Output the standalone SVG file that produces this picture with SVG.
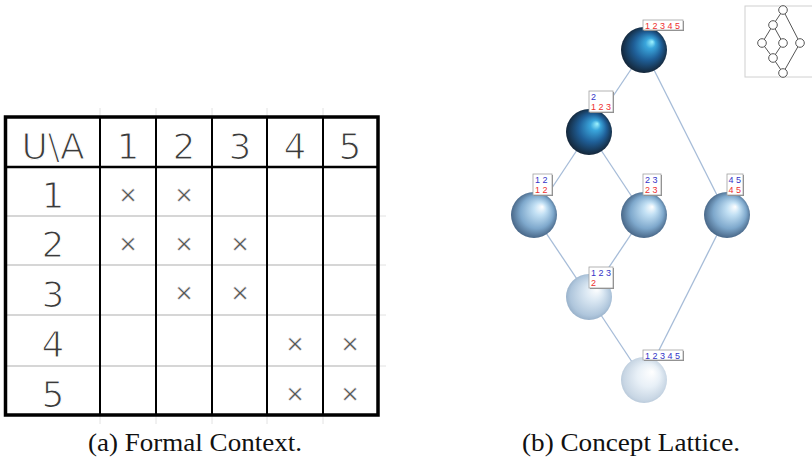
<svg xmlns="http://www.w3.org/2000/svg" width="812" height="460" viewBox="0 0 812 460">
<style>
.num{font-family:"DejaVu Sans","Liberation Sans",sans-serif;font-size:36px;fill:#3a3a3a;stroke:#fff;stroke-width:1.2px;text-anchor:middle}
.x{font-family:"Liberation Sans",Arial,sans-serif;font-size:30px;fill:#555;stroke:#fff;stroke-width:0.5px;text-anchor:middle}
.cap{font-family:"Liberation Serif","Times New Roman",serif;font-size:25px;fill:#111;text-anchor:middle}
.lb{font-family:"Liberation Sans",Arial,sans-serif;font-size:9px}
.b{fill:#3434c8}
.r{fill:#ee3030}
.box{fill:#fff;stroke:#a0a0a0;stroke-width:0.8}
.sh{fill:#8a8a8a}
.edge{stroke:#a6bcd8;stroke-width:1.3;fill:none}
.vl{stroke:#000;stroke-width:2}
.hl{stroke:#c8c8c8;stroke-width:1.5}
.faint{stroke:#e2e2e2;stroke-width:1}
.th circle{fill:#fff;stroke:#555;stroke-width:1}
.th line{stroke:#555;stroke-width:1}
</style>
<defs>
<radialGradient id="gDark" cx="0.5" cy="0.5" r="0.55" fx="0.68" fy="0.32">
<stop offset="0" stop-color="#9ff4ff"/>
<stop offset="0.2" stop-color="#3aa6dc"/>
<stop offset="0.55" stop-color="#1f5f98"/>
<stop offset="1" stop-color="#121c28"/>
</radialGradient>
<radialGradient id="gMid" cx="0.5" cy="0.5" r="0.55" fx="0.68" fy="0.32">
<stop offset="0" stop-color="#ffffff"/>
<stop offset="0.25" stop-color="#c2e0f4"/>
<stop offset="0.65" stop-color="#7ea8cc"/>
<stop offset="1" stop-color="#3c5878"/>
</radialGradient>
<radialGradient id="gPale" cx="0.5" cy="0.5" r="0.55" fx="0.68" fy="0.32">
<stop offset="0" stop-color="#ffffff"/>
<stop offset="0.35" stop-color="#dbe8f3"/>
<stop offset="0.8" stop-color="#afc6dc"/>
<stop offset="1" stop-color="#8fa8c2"/>
</radialGradient>
<radialGradient id="gPalest" cx="0.5" cy="0.5" r="0.55" fx="0.68" fy="0.32">
<stop offset="0" stop-color="#ffffff"/>
<stop offset="0.45" stop-color="#e8f0f7"/>
<stop offset="0.85" stop-color="#c8d6e4"/>
<stop offset="1" stop-color="#b0c2d4"/>
</radialGradient>
</defs>
<rect width="812" height="460" fill="#fff"/>

<g id="table">
<g class="faint">
<line x1="100" y1="108" x2="100" y2="116"/><line x1="156" y1="108" x2="156" y2="116"/>
<line x1="212" y1="108" x2="212" y2="116"/><line x1="267" y1="108" x2="267" y2="116"/>
<line x1="323" y1="108" x2="323" y2="116"/>
<line x1="100" y1="416" x2="100" y2="424"/><line x1="156" y1="416" x2="156" y2="424"/>
<line x1="212" y1="416" x2="212" y2="424"/><line x1="267" y1="416" x2="267" y2="424"/>
<line x1="323" y1="416" x2="323" y2="424"/>
<line x1="378" y1="216" x2="386" y2="216"/><line x1="378" y1="265" x2="386" y2="265"/>
<line x1="378" y1="315" x2="386" y2="315"/><line x1="378" y1="366" x2="386" y2="366"/>
</g>
<g class="hl">
<line x1="5" y1="216" x2="378" y2="216"/>
<line x1="5" y1="265" x2="378" y2="265"/>
<line x1="5" y1="315" x2="378" y2="315"/>
<line x1="5" y1="366" x2="378" y2="366"/>
</g>
<g class="vl">
<line x1="100" y1="117" x2="100" y2="415"/>
<line x1="156" y1="117" x2="156" y2="415"/>
<line x1="212" y1="117" x2="212" y2="415"/>
<line x1="267" y1="117" x2="267" y2="415"/>
<line x1="323" y1="117" x2="323" y2="415"/>
</g>
<line x1="5" y1="167" x2="378" y2="167" stroke="#000" stroke-width="2.5"/>
<rect x="5.5" y="117" width="372.5" height="298" fill="none" stroke="#000" stroke-width="3.5"/>
<text class="num" x="53" y="159">U\A</text>
<text class="num" x="128" y="159">1</text>
<text class="num" x="184" y="159">2</text>
<text class="num" x="240" y="159">3</text>
<text class="num" x="295" y="159">4</text>
<text class="num" x="350" y="159">5</text>
<text class="num" x="53" y="208">1</text>
<text class="num" x="53" y="257">2</text>
<text class="num" x="53" y="307">3</text>
<text class="num" x="53" y="357">4</text>
<text class="num" x="53" y="407">5</text>
<text class="x" x="128" y="205">×</text>
<text class="x" x="184" y="205">×</text>
<text class="x" x="128" y="254">×</text>
<text class="x" x="184" y="254">×</text>
<text class="x" x="240" y="254">×</text>
<text class="x" x="184" y="303">×</text>
<text class="x" x="240" y="303">×</text>
<text class="x" x="295" y="354">×</text>
<text class="x" x="350" y="354">×</text>
<text class="x" x="295" y="404">×</text>
<text class="x" x="350" y="404">×</text>
</g>

<g id="connectors">
<line class="edge" x1="644" y1="50" x2="589" y2="132"/>
<line class="edge" x1="644" y1="50" x2="727" y2="215"/>
<line class="edge" x1="589" y1="132" x2="534" y2="215"/>
<line class="edge" x1="589" y1="132" x2="644" y2="215"/>
<line class="edge" x1="534" y1="215" x2="589" y2="297"/>
<line class="edge" x1="644" y1="215" x2="589" y2="297"/>
<line class="edge" x1="589" y1="297" x2="644" y2="380"/>
<line class="edge" x1="727" y1="215" x2="644" y2="380"/>
</g>

<g id="node-top">
<circle cx="644" cy="50" r="23" fill="url(#gDark)"/>
<rect class="sh" x="644" y="21" width="40" height="10"/>
<rect class="box" x="643" y="20" width="40" height="10"/>
<text class="lb r" x="645" y="28.5">1 2 3 4 5</text>
</g>
<g id="node-2">
<circle cx="589" cy="132" r="23" fill="url(#gDark)"/>
<rect class="sh" x="590" y="92" width="24" height="21"/>
<rect class="box" x="589" y="91" width="24" height="21"/>
<text class="lb b" x="591" y="100">2</text>
<text class="lb r" x="591" y="110">1 2 3</text>
</g>
<g id="node-12">
<circle cx="534" cy="215" r="23" fill="url(#gMid)"/>
<rect class="sh" x="534" y="175" width="19" height="21"/>
<rect class="box" x="533" y="174" width="19" height="21"/>
<text class="lb b" x="535" y="183">1 2</text>
<text class="lb r" x="535" y="193">1 2</text>
</g>
<g id="node-23">
<circle cx="644" cy="215" r="23" fill="url(#gMid)"/>
<rect class="sh" x="644" y="175" width="18" height="21"/>
<rect class="box" x="643" y="174" width="18" height="21"/>
<text class="lb b" x="645" y="183">2 3</text>
<text class="lb r" x="645" y="193">2 3</text>
</g>
<g id="node-45">
<circle cx="727" cy="215" r="23" fill="url(#gMid)"/>
<rect class="sh" x="728" y="175" width="16" height="21"/>
<rect class="box" x="727" y="174" width="16" height="21"/>
<text class="lb b" x="728.5" y="183">4 5</text>
<text class="lb r" x="728.5" y="193">4 5</text>
</g>
<g id="node-123">
<circle cx="589" cy="297" r="23" fill="url(#gPale)"/>
<rect class="sh" x="590" y="268" width="24" height="21"/>
<rect class="box" x="589" y="267" width="24" height="21"/>
<text class="lb b" x="591" y="276">1 2 3</text>
<text class="lb r" x="591" y="286">2</text>
</g>
<g id="node-bottom">
<circle cx="644" cy="380" r="23" fill="url(#gPalest)"/>
<rect class="sh" x="644" y="351" width="40" height="10"/>
<rect class="box" x="643" y="350" width="40" height="10"/>
<text class="lb b" x="645" y="358.5">1 2 3 4 5</text>
</g>

<g id="thumbnail" class="th">
<rect x="745" y="6" width="70" height="71" fill="#fff" stroke="#d0d0d0" stroke-width="1"/>
<line x1="783" y1="10" x2="773" y2="25"/>
<line x1="783" y1="10" x2="800" y2="43"/>
<line x1="773" y1="25" x2="762" y2="43"/>
<line x1="773" y1="25" x2="783" y2="43"/>
<line x1="762" y1="43" x2="773" y2="58"/>
<line x1="783" y1="43" x2="773" y2="58"/>
<line x1="773" y1="58" x2="783" y2="73"/>
<line x1="800" y1="43" x2="783" y2="73"/>
<circle cx="783" cy="10" r="4.3"/>
<circle cx="773" cy="25" r="4.3"/>
<circle cx="762" cy="43" r="4.3"/>
<circle cx="783" cy="43" r="4.3"/>
<circle cx="800" cy="43" r="4.3"/>
<circle cx="773" cy="58" r="4.3"/>
<circle cx="783" cy="73" r="4.3"/>
</g>

<text class="cap" x="195" y="451" textLength="214" lengthAdjust="spacingAndGlyphs">(a) Formal Context.</text>
<text class="cap" x="631" y="451" textLength="218" lengthAdjust="spacingAndGlyphs">(b) Concept Lattice.</text>
</svg>
